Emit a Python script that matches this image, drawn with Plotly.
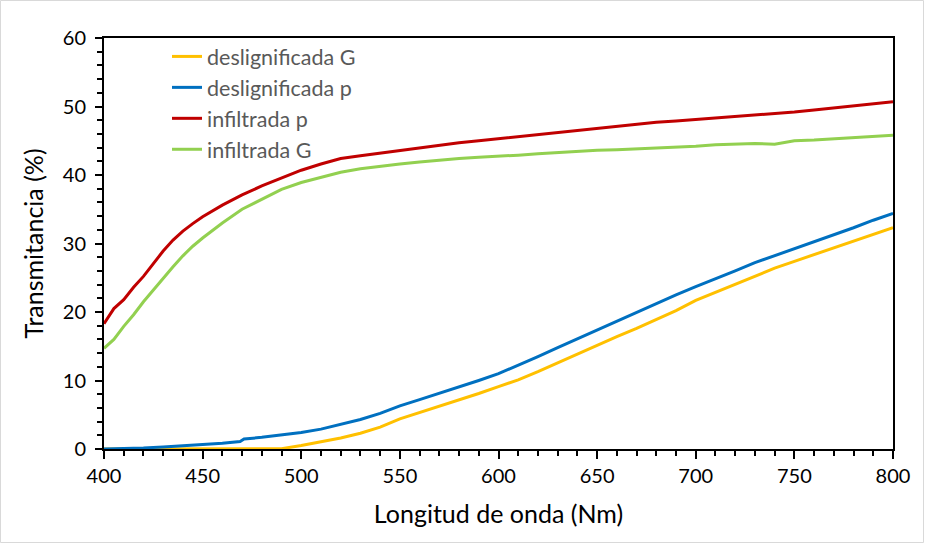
import plotly.graph_objects as go

# wavelengths (nm)
x_inf = [400, 405, 410, 415, 420, 425, 430, 435, 440, 445, 450, 460, 470, 480, 490,
         500, 510, 520, 530, 540, 550, 560, 570, 580, 590, 600, 610, 620, 630, 640,
         650, 660, 670, 680, 690, 700, 710, 720, 730, 740, 750, 760, 770, 780, 790, 800]

infiltrada_p = [18.3, 20.5, 21.8, 23.6, 25.2, 27.0, 28.9, 30.5, 31.8, 32.9, 33.9, 35.6, 37.1, 38.4, 39.6,
                40.7, 41.6, 42.4, 42.8, 43.2, 43.6, 44.0, 44.3, 44.7, 45.0, 45.3, 45.7, 46.0, 46.3, 46.6,
                46.9, 47.2, 47.4, 47.7, 47.9, 48.1, 48.4, 48.6, 48.8, 48.9, 49.2, 49.5, 49.8, 50.1, 50.4, 50.7]

infiltrada_G = [14.7, 16.0, 17.9, 19.6, 21.5, 23.2, 25.0, 26.6, 28.2, 29.6, 30.8, 33.0, 35.0, 36.5, 37.9,
                38.9, 39.7, 40.4, 40.9, 41.3, 41.6, 41.9, 42.2, 42.4, 42.6, 42.7, 42.9, 43.1, 43.3, 43.4,
                43.6, 43.7, 43.8, 43.9, 44.1, 44.2, 44.4, 44.5, 44.6, 44.5, 45.0, 45.1, 45.3, 45.4, 45.6, 45.8]

x_des_p = [400, 410, 420, 430, 440, 450, 460, 469, 471, 480, 490, 500, 510, 520, 530, 540, 550,
           560, 570, 580, 590, 600, 610, 620, 630, 640, 650, 660, 670, 680, 690, 700, 710, 720,
           730, 740, 750, 760, 770, 780, 790, 800]
deslignificada_p = [0.0, 0.05, 0.15, 0.3, 0.45, 0.65, 0.85, 1.1, 1.45, 1.7, 2.0, 2.4, 2.9, 3.6, 4.3, 5.2, 6.3,
                    7.2, 8.1, 9.1, 10.0, 11.0, 12.2, 13.5, 14.8, 16.1, 17.4, 18.7, 19.9, 21.2, 22.5, 23.7,
                    24.8, 26.0, 27.2, 28.2, 29.2, 30.2, 31.3, 32.3, 33.4, 34.4]

x_des_G = [400, 410, 420, 430, 440, 450, 460, 470, 480, 490, 500, 510, 520, 530, 540, 550,
           560, 570, 580, 590, 600, 610, 620, 630, 640, 650, 660, 670, 680, 690, 700, 710, 720,
           730, 740, 750, 760, 770, 780, 790, 800]
deslignificada_G = [0.0, 0.0, 0.0, 0.0, 0.0, 0.0, 0.0, 0.0, 0.0, 0.05, 0.5, 1.0, 1.6, 2.3, 3.2, 4.4,
                    5.3, 6.2, 7.1, 8.1, 9.1, 10.1, 11.3, 12.6, 13.9, 15.1, 16.4, 17.6, 18.9, 20.2, 21.7,
                    22.9, 24.1, 25.3, 26.4, 27.4, 28.4, 29.4, 30.4, 31.4, 32.3]

FONT = "Lato"

fig = go.Figure()
fig.add_trace(go.Scatter(x=x_des_G, y=deslignificada_G, mode="lines", name="deslignificada G",
                         line=dict(color="#FFC000", width=3)))
fig.add_trace(go.Scatter(x=x_des_p, y=deslignificada_p, mode="lines", name="deslignificada p",
                         line=dict(color="#0070C0", width=3)))
fig.add_trace(go.Scatter(x=x_inf, y=infiltrada_p, mode="lines", name="infiltrada p",
                         line=dict(color="#C00000", width=3)))
fig.add_trace(go.Scatter(x=x_inf, y=infiltrada_G, mode="lines", name="infiltrada G",
                         line=dict(color="#92D050", width=3)))

L, R, T, B = 104, 32, 38, 95
W, H = 925, 544
pw, ph = W - L - R, H - T - B

fig.update_layout(
    width=W, height=H,
    margin=dict(l=L, r=R, t=T, b=B),
    paper_bgcolor="white", plot_bgcolor="white",
    font=dict(family=FONT, size=20, color="black"),
    showlegend=True,
    legend=dict(x=(167 - L) / pw, y=1.005, xanchor="left", yanchor="top",
                bgcolor="rgba(0,0,0,0)", font=dict(size=21.5, color="#595959"),
                tracegroupgap=0),
    xaxis=dict(range=[400, 800], tickmode="linear", tick0=400, dtick=50,
               showline=True, linecolor="black", linewidth=2, mirror=True,
               ticks="outside", ticklen=8, tickwidth=2, tickcolor="black",
               minor=dict(dtick=10, ticks="outside", ticklen=5, tickwidth=2, tickcolor="black"),
               showgrid=False, zeroline=False,
               title=dict(text="Longitud de onda (Nm)", font=dict(size=25), standoff=19),
               tickfont=dict(size=20)),
    yaxis=dict(range=[0, 60], tickmode="linear", tick0=0, dtick=10,
               showline=True, linecolor="black", linewidth=2, mirror=True,
               ticks="outside", ticklen=7, tickwidth=2, tickcolor="black",
               minor=dict(dtick=2, ticks="outside", ticklen=5, tickwidth=2, tickcolor="black"),
               showgrid=False, zeroline=False, ticklabelstandoff=5,
               title=dict(text="Transmitancia (%)", font=dict(size=25), standoff=12),
               tickfont=dict(size=20)),
    shapes=[dict(type="rect", xref="paper", yref="paper",
                 x0=(-L + 0.5) / pw, x1=(pw + R - 1.5) / pw,
                 y0=(-B + 1.5) / ph, y1=(ph + T - 0.5) / ph,
                 line=dict(color="#D9D9D9", width=1), fillcolor="rgba(0,0,0,0)", layer="below")],
)

fig.write_html("out.html")
